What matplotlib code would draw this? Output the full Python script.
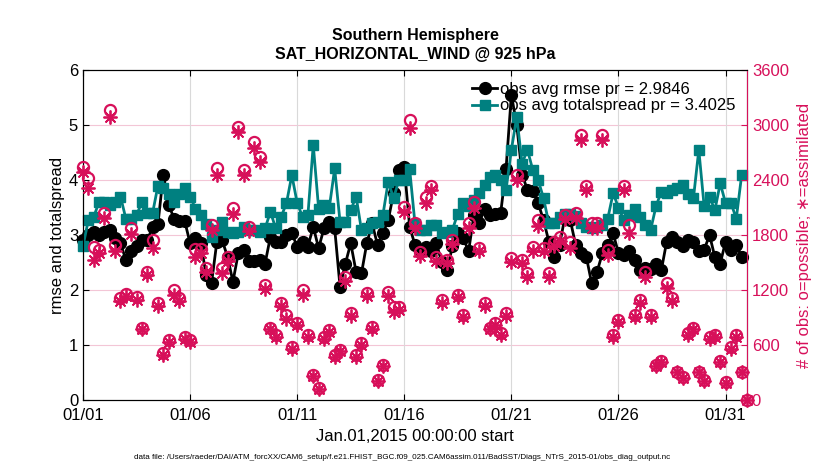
import numpy as np
import pandas as pd
import matplotlib
matplotlib.use("Agg")
import matplotlib.pyplot as plt
import matplotlib.dates as mdates

plt.rcParams['font.family'] = ['Liberation Sans', 'DejaVu Sans']

title_lines = ["Southern Hemisphere", "SAT_HORIZONTAL_WIND @ 925 hPa"]
start = "2015-01-01"
n_times = 125
tick_days = [1, 6, 11, 16, 21, 26, 31]

rmse = [2.9, 3.0, 3.05, 3.0, 3.05, 3.1, 2.95, 2.85, 2.55, 2.7,
        2.8, 2.9, 2.9, 3.15, 3.2, 4.1, 3.55, 3.3, 3.25, 3.25,
        2.85, 2.94, 2.85, 2.27, 2.12, 2.88, 2.9, 2.6, 2.15, 2.67,
        2.73, 2.52, 2.52, 2.55, 2.48, 2.97, 2.88, 2.88, 3.0, 3.03,
        2.79, 2.88, 2.79, 3.15, 2.76, 3.12, 3.24, 3.12, 2.06, 2.48,
        2.85, 2.33, 2.3, 2.85, 3.21, 2.82, 3.03, 3.27, 3.76, 4.18,
        4.24, 3.15, 2.82, 2.7, 2.79, 2.7, 2.85, 2.5, 2.36, 2.8,
        3.03, 2.95, 2.7, 3.36, 3.21, 3.48, 3.36, 3.39, 3.4, 4.2,
        5.55, 5.0, 4.1, 3.82, 3.8, 3.58, 3.27, 2.88, 2.6, 2.82,
        3.33, 3.27, 2.82, 2.67, 2.6, 2.12, 2.33, 2.67, 2.82, 3.03,
        2.67, 2.64, 2.7, 2.55, 2.36, 2.4, 2.39, 2.48, 2.36, 2.88,
        2.97, 2.88, 2.8, 2.9, 2.88, 2.7, 2.73, 3.0, 2.6, 2.48,
        2.88, 2.73, 2.82, 2.6, np.nan]

totalspread = [2.8, 3.27, 3.33, 3.6, 3.6, 3.55, 3.6, 3.7, 3.3, 3.3,
               3.36, 3.6, 3.4, 3.4, 3.9, 3.85, 3.75, 3.6, 3.75, 3.85,
               3.7, 3.48, 3.36, 3.2, 2.97, 3.1, 3.24, 3.06, 3.03, 3.06,
               3.15, 3.1, 3.1, 3.06, 3.12, 3.42, 3.12, 3.33, 3.58, 4.09,
               3.58, 3.33, 3.36, 4.64, 3.48, 3.55, 3.5, 4.21, 3.24, 3.24,
               3.45, 3.7, 3.09, 3.12, 3.21, 3.24, 3.36, 3.97, 3.67, 4.0,
               4.0, 4.2, 3.2, 3.09, 3.09, 3.18, 3.18, 3.03, 3.06, 3.1,
               3.39, 3.58, 3.52, 3.64, 3.76, 3.91, 4.06, 4.09, 4.0, 3.82,
               4.55, 5.15, 4.3, 4.55, 4.18, 4.0, 3.67, 3.21, 3.21, 3.33,
               3.39, 3.39, 3.35, 3.21, 3.15, 3.12, 3.15, 3.18, 3.3, 3.76,
               3.5, 3.27, 3.36, 3.48, 3.33, 3.18, 3.09, 3.52, 3.79, 3.76,
               3.82, 3.85, 3.91, 3.75, 3.67, 4.55, 3.52, 3.7, 3.45, 3.94,
               3.58, 3.58, 3.3, 4.09, np.nan]

n_possible = [2540, 2420, 1670, 1640, 2040, 3160, 1690, 1110, 1160, 1880,
              1120, 790, 1400, 1740, 1060, 510, 650, 1200, 1110, 690,
              650, 1650, 1650, 1440, 1910, 2530, 1440, 1560, 2090, 2980,
              2510, 1890, 2810, 2650, 1250, 790, 710, 1060, 930, 580,
              840, 1200, 710, 270, 130, 690, 760, 490, 550, 1340,
              950, 490, 620, 1170, 800, 220, 380, 1180, 1010, 1010,
              2110, 3050, 1930, 1610, 2210, 2340, 1560, 1090, 1530, 1750,
              1150, 930, 1930, 2160, 1660, 1060, 790, 840, 730, 950,
              1550, 2450, 1530, 1380, 1670, 1960, 1660, 1380, 1720, 1780,
              2020, 1720, 2040, 2890, 2340, 1930, 1930, 2890, 1640, 710,
              870, 2340, 1910, 930, 1090, 1400, 930, 380, 420, 1280,
              1110, 310, 250, 730, 790, 310, 220, 690, 710, 420,
              200, 580, 710, 310, 0]

n_assim = [2490, 2310, 1530, 1600, 1990, 3090, 1630, 1080, 1130, 1810,
           1090, 770, 1360, 1660, 1030, 490, 630, 1140, 1080, 670,
           630, 1560, 1600, 1400, 1860, 2450, 1380, 1520, 2030, 2920,
           2450, 1840, 2750, 2600, 1210, 770, 690, 1030, 880, 560,
           820, 1150, 690, 260, 120, 670, 740, 470, 530, 1300,
           920, 470, 600, 1130, 770, 210, 370, 1130, 960, 980,
           2050, 2970, 1880, 1570, 2150, 2290, 1520, 1060, 1490, 1700,
           1120, 900, 1880, 2100, 1620, 1030, 770, 820, 710, 920,
           1510, 2400, 1490, 1340, 1630, 1900, 1620, 1340, 1680, 1730,
           1970, 1660, 1990, 2840, 2290, 1880, 1880, 2840, 1580, 690,
           850, 2290, 1820, 900, 1060, 1340, 900, 370, 410, 1220,
           1080, 300, 240, 710, 770, 300, 210, 670, 690, 410,
           190, 560, 690, 300, 0]

rmse_label = "obs avg rmse pr = 2.9846"
spread_label = "obs avg totalspread pr = 3.4025"
xlabel = "Jan.01,2015 00:00:00 start"
ylabel_left = "rmse and totalspread"
ylabel_right = "# of obs: o=possible; \u2217=assimilated"
footnote = ("data file: /Users/raeder/DAI/ATM_forcXX/CAM6_setup/f.e21.FHIST_BGC.f09_025."
            "CAM6assim.011/BadSST/Diags_NTrS_2015-01/obs_diag_output.nc")

times = pd.date_range(start, periods=n_times, freq="6h")

MAG = '#d7105a'
TEAL = '#008080'

fig = plt.figure(figsize=(8.3, 4.7), dpi=100)
ax = fig.add_axes([0.1, 0.149, 0.8, 0.702])

h1, = ax.plot(times, rmse, '-o', color='black', lw=2.0, ms=8.5, mfc='black', mec='black',
              label=rmse_label, clip_on=False, zorder=3)
h2, = ax.plot(times, totalspread, '-s', color=TEAL, lw=2.0, ms=7, mfc=TEAL, mec=TEAL,
              label=spread_label, clip_on=False, zorder=4)

ax.set_ylim(0, 6)
ax.set_yticks(range(0, 7))
ax.set_xlim(times[0], times[-1])
tick_dates = [pd.Timestamp(2015, 1, d) for d in tick_days]
ax.set_xticks(tick_dates)
ax.xaxis.set_major_formatter(mdates.DateFormatter('%m/%d'))
ax.tick_params(axis='both', direction='in', length=4, labelsize=12, top=True)
ax.tick_params(axis='x', pad=6)
ax.tick_params(axis='y', right=False)
ax.xaxis.grid(True, color='#d9d9d9', lw=0.8)
for v in range(1, 6):
    ax.axhline(v, color='#f3c6d6', lw=0.8, zorder=0)
ax.set_axisbelow(True)

ax.set_xlabel(xlabel, fontsize=12, labelpad=4)
ax.set_ylabel(ylabel_left, fontsize=12, labelpad=3)
ax.set_title("\n".join(title_lines), fontsize=11.5, fontweight='bold', pad=8,
             linespacing=1.3)

ax2 = ax.twinx()
ax2.plot(times, n_possible, 'o', ls='none', ms=8, mfc='none', mec=MAG, mew=1.6,
         clip_on=False, zorder=5)
ax2.plot(times, n_assim, marker=(8, 2, 0), ls='none', ms=10, mec=MAG, color=MAG,
         mew=1.3, clip_on=False, zorder=5)
ax2.set_ylim(0, 3600)
ax2.set_yticks(range(0, 3601, 600))
ax2.tick_params(axis='y', direction='in', length=4, labelsize=12, colors=MAG)
ax2.spines['right'].set_color(MAG)
ax2.set_ylabel(ylabel_right, color=MAG, fontsize=12, labelpad=6)

leg = ax2.legend([h1, h2], [rmse_label, spread_label], loc='upper right',
                 frameon=False, fontsize=12, handlelength=1.5,
                 handletextpad=0.15, labelspacing=0.1, borderaxespad=0.3,
                 bbox_to_anchor=(1.0, 1.0))
leg.set_zorder(10)

fig.text(0.484, 0.027, footnote, fontsize=5.8, ha='center', va='center')

fig.savefig("out.png", dpi=100)
